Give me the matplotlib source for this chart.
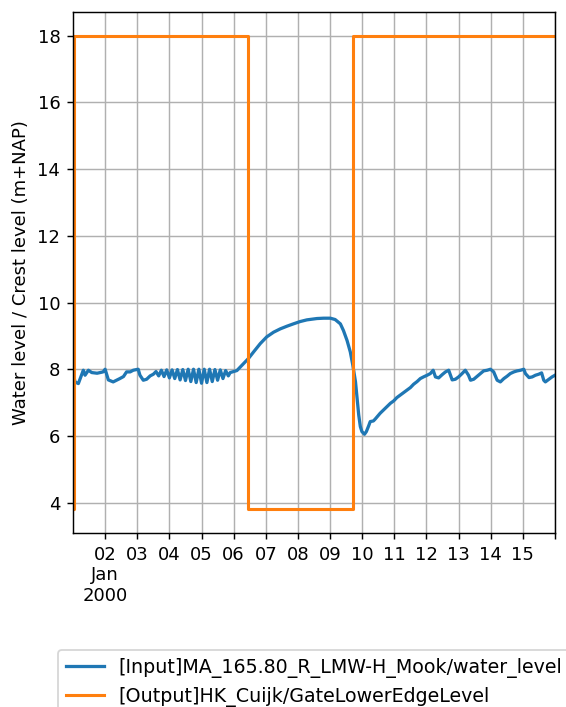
import numpy as np
import pandas as pd
import matplotlib
matplotlib.use("Agg")
import matplotlib.pyplot as plt

# Water level at Mook (hours since 2000-01-01 00:00, m+NAP)
wl_hours = [0, 1.5, 4, 7.7, 9, 11.5, 14, 18, 22.5, 24, 26.4, 30, 35, 37.7, 40, 42.7,
            45, 48.7, 50, 52.5, 55, 57.6, 60, 62, 64, 66, 68, 70, 72, 74, 76, 78,
            80, 82, 84, 86, 88, 90, 92, 94, 96, 98, 100, 102, 104, 106, 108, 110,
            112, 114, 116, 117.4, 122.4, 127.4, 131, 134.9, 139.9, 144.7, 149.8,
            154.8, 159.8, 164.6, 169.7, 174.7, 182.2, 187.2, 192.2, 195.8, 199.7,
            202, 204.7, 207.1, 209, 211, 212.2, 213.4, 214.6, 215.8, 217.7, 219.1,
            220.8, 222, 224.4, 225.8, 229.4, 232, 234.5, 237.1, 239.5, 241.9,
            244.6, 247, 249.6, 252, 254.4, 257, 259.4, 261.8, 264.5, 266.9, 269,
            270.7, 273.1, 275.8, 278.2, 280.6, 283.2, 285.6, 288, 290.6, 293,
            295.4, 296.9, 299.3, 301.9, 304.3, 306.7, 309.4, 311.8, 314.2, 316.8,
            319.2, 321.8, 324.2, 326.6, 329.3, 331.7, 334.3, 336.7, 337.9, 340.6,
            343, 345.4, 347.8, 350, 351.6, 352.8, 355.4, 357.8, 360]
wl_values = [7.90, 7.62, 7.57, 7.97, 7.82, 7.97, 7.90, 7.88, 7.92, 8.00, 7.68, 7.62,
             7.72, 7.78, 7.92, 7.92, 7.97, 8.00, 7.82, 7.67, 7.70, 7.80, 7.85, 7.93,
             7.80, 7.97, 7.78, 7.98, 7.74, 7.98, 7.72, 7.99, 7.68, 7.99, 7.66, 8.00,
             7.63, 8.00, 7.60, 8.00, 7.58, 8.00, 7.60, 8.00, 7.63, 7.99, 7.67, 7.98,
             7.72, 7.96, 7.80, 7.90, 7.96, 8.17, 8.32, 8.52, 8.77, 8.97, 9.11, 9.21,
             9.29, 9.36, 9.43, 9.48, 9.52, 9.53, 9.53, 9.49, 9.36, 9.16, 8.86, 8.52,
             8.12, 7.62, 7.13, 6.63, 6.28, 6.13, 6.05, 6.13, 6.30, 6.43, 6.45, 6.51,
             6.68, 6.78, 6.88, 6.98, 7.05, 7.15, 7.23, 7.30, 7.38, 7.45, 7.55, 7.63,
             7.72, 7.77, 7.82, 7.87, 7.97, 7.77, 7.74, 7.84, 7.92, 7.97, 7.68, 7.70,
             7.77, 7.87, 7.97, 7.82, 7.67, 7.70, 7.79, 7.87, 7.95, 7.97, 8.00, 7.92,
             7.67, 7.62, 7.72, 7.79, 7.87, 7.92, 7.95, 7.97, 8.00, 7.87, 7.75, 7.77,
             7.82, 7.85, 7.89, 7.67, 7.62, 7.70, 7.77, 7.82]

# Gate lower edge level at Cuijk (step changes)
gate_hours = [0, 1, 131, 209, 360]
gate_values = [3.8, 18.0, 3.8, 18.0, 18.0]

start = pd.Timestamp("2000-01-01")
wl_time = start + pd.to_timedelta(wl_hours, unit="h")
gate_time = start + pd.to_timedelta(gate_hours, unit="h")

tick_days = pd.date_range("2000-01-02", "2000-01-16", freq="D")
tick_labels = ["02\nJan\n2000"] + [d.strftime("%d") for d in tick_days[1:-1]] + [""]

fig = plt.figure(figsize=(566 / 130, 707 / 130), dpi=130)
ax = fig.add_axes([73 / 566, 1 - 533 / 707, (555 - 73) / 566, (533 - 12) / 707])

ax.plot(wl_time, wl_values, color="#1f77b4", linewidth=1.8,
        label="[Input]MA_165.80_R_LMW-H_Mook/water_level")
ax.plot(gate_time, gate_values, color="#ff7f0e", linewidth=1.7, drawstyle="steps-post",
        label="[Output]HK_Cuijk/GateLowerEdgeLevel")

ax.set_xlim(start, pd.Timestamp("2000-01-16"))
ax.set_xticks(tick_days)
ax.set_xticklabels(tick_labels)
ax.set_yticks(np.arange(4, 19, 2))
ax.set_ylabel("Water level / Crest level (m+NAP)")
ax.grid(True)

fig.legend(loc="upper left", bbox_to_anchor=(58 / 566, 1 - 650 / 707),
           borderaxespad=0, fontsize=10.5)

fig.savefig("out.png", dpi=130)
